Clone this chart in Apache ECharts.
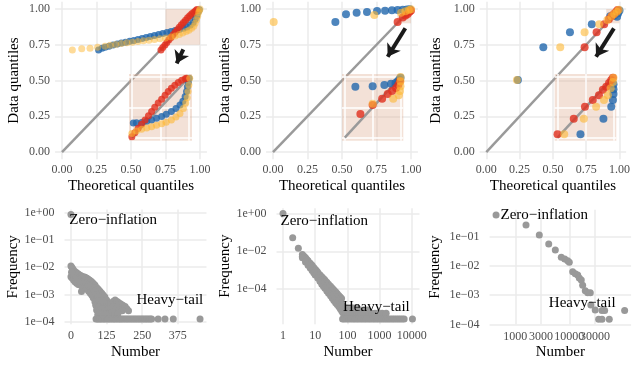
<!DOCTYPE html>
<html>
<head>
<meta charset="utf-8">
</head>
<body style="margin: 0">
<div id="container" style="width: 633px; height: 368px"></div>
<script src="https://cdn.jsdelivr.net/npm/echarts@6/dist/echarts.min.js"></script>
<script type="text/javascript">
    var FONT = '"Liberation Serif", "DejaVu Serif", serif';
    var BLUE = '#2166AC', RED = '#E0301E', YELLOW = '#FDB734', GREY = '#999999';

    // ---- top row: QQ plots ----
    var qqTicks = [0, 0.25, 0.5, 0.75, 1];
    var insetTicks = [0, 0.5, 1];
    var diag = [[0, 0], [1, 1]];

    // panel A
    var aBlue = [[0.265,0.713],[0.29,0.725],[0.312,0.733],[0.34,0.740],[0.37,0.748],[0.4,0.755],[0.43,0.762],[0.46,0.768],[0.49,0.774],[0.52,0.780],[0.55,0.787],[0.58,0.794],[0.61,0.800],[0.64,0.807],[0.67,0.814],[0.70,0.821],[0.73,0.828],[0.76,0.835],[0.79,0.842],[0.82,0.849],[0.85,0.857],[0.88,0.866],[0.905,0.875],[0.93,0.888],[0.95,0.905],[0.965,0.93],[0.977,0.955],[0.987,0.98],[0.995,0.995]];
    var aRed = [[0.717,0.713],[0.73,0.73],[0.746,0.748],[0.76,0.765],[0.775,0.785],[0.79,0.80],[0.805,0.82],[0.82,0.838],[0.835,0.855],[0.85,0.872],[0.865,0.89],[0.88,0.905],[0.895,0.922],[0.91,0.938],[0.925,0.952],[0.94,0.966],[0.955,0.978],[0.968,0.988],[0.978,0.996]];
    var aYellow = [[0.075,0.713],[0.143,0.723],[0.203,0.726],[0.258,0.733],[0.312,0.740],[0.35,0.746],[0.39,0.752],[0.43,0.758],[0.47,0.764],[0.51,0.768],[0.55,0.773],[0.59,0.778],[0.63,0.782],[0.67,0.787],[0.71,0.792],[0.75,0.798],[0.79,0.805],[0.82,0.812],[0.85,0.822],[0.875,0.832],[0.9,0.842],[0.92,0.852],[0.94,0.865],[0.955,0.88],[0.965,0.9],[0.975,0.925],[0.983,0.95],[0.99,0.975],[0.995,0.99],[1.0,1.0]];
    var aInBlue = [[0.025,0.24],[0.08,0.245],[0.17,0.25],[0.26,0.27],[0.345,0.29],[0.43,0.32],[0.52,0.35],[0.6,0.385],[0.69,0.43],[0.77,0.48],[0.84,0.54],[0.89,0.6],[0.93,0.68],[0.955,0.76],[0.97,0.84],[0.985,0.91],[1.0,0.98]];
    var aInRed = [[0.0,0.016],[0.05,0.08],[0.11,0.155],[0.17,0.22],[0.23,0.29],[0.29,0.36],[0.345,0.43],[0.40,0.50],[0.46,0.57],[0.52,0.635],[0.58,0.70],[0.635,0.76],[0.69,0.815],[0.75,0.865],[0.81,0.91],[0.87,0.945],[0.93,0.97],[0.955,0.98]];
    var aInYellow = [[0,0.07],[0.08,0.11],[0.17,0.14],[0.26,0.16],[0.345,0.18],[0.43,0.205],[0.52,0.23],[0.6,0.255],[0.69,0.29],[0.77,0.34],[0.84,0.40],[0.9,0.48],[0.94,0.57],[0.965,0.66],[0.98,0.76],[0.995,0.87],[1.01,0.98]];
    var aBox = [0.75, 1];
    var aArrow = [[0.879, 0.718], [0.831, 0.62]];

    // panel B
    var bBlue = [[0.452,0.909],[0.529,0.963],[0.606,0.974],[0.681,0.979],[0.754,0.986],[0.812,0.988],[0.862,0.991],[0.903,0.993],[0.94,0.995],[0.97,0.997],[0.99,0.998]];
    var bRed = [[0.903,0.909],[0.94,0.94],[0.96,0.955],[0.976,0.965],[0.99,0.98],[1.0,0.99]];
    var bYellow = [[0.005,0.909],[0.734,0.958],[0.928,0.974],[0.96,0.985],[0.985,0.993],[1.0,0.998]];
    var bInBlue = [[0.19,0.84],[0.50,0.85],[0.71,0.87],[0.83,0.89],[0.91,0.9],[0.95,0.93],[0.98,0.96],[1.0,0.99]];
    var bInRed = [[0.28,0.39],[0.50,0.54],[0.67,0.64],[0.77,0.72],[0.85,0.77],[0.92,0.82],[0.96,0.87],[0.99,0.93]];
    var bInYellow = [[0.50,0.56],[0.87,0.64],[0.97,0.70],[0.99,0.77],[1.0,0.85],[1.0,0.93],[1.0,1.0]];
    var bBox = [0.9, 1];
    var bArrow = [[0.959, 0.865], [0.831, 0.666]];

    // panel C
    var cBlue = [[0.237,0.503],[0.428,0.732],[0.628,0.837],[0.792,0.893],[0.93,0.95],[0.96,0.955],[0.982,0.946],[0.99,0.97],[1.0,0.99]];
    var cRed = [[0.738,0.732],[0.828,0.837],[0.885,0.893],[0.92,0.928],[0.94,0.95],[0.958,0.965],[0.975,0.98],[0.986,0.993]];
    var cYellow = [[0.230,0.503],[0.555,0.732],[0.738,0.837],[0.848,0.893],[0.909,0.923],[0.94,0.95],[0.96,0.965],[0.98,0.98],[0.995,0.995]];
    var cInBlue = [[0.41,0.056],[0.82,0.31],[0.96,0.51],[0.99,0.62],[1.0,0.72],[1.0,0.8],[1.0,0.88]];
    var cInRed = [[0.0,0.056],[0.29,0.31],[0.49,0.51],[0.63,0.62],[0.74,0.70],[0.81,0.79],[0.87,0.84],[0.92,0.90],[0.96,0.95],[0.99,0.99]];
    var cInYellow = [[0.12,0.056],[0.47,0.31],[0.69,0.51],[0.83,0.62],[0.90,0.70],[0.95,0.815],[0.99,0.92],[1.0,0.99]];
    var cBox = [0.9, 1];
    var cArrow = [[0.958, 0.865], [0.824, 0.666]];

    // ---- bottom row: frequency plots ----
    var logTicksA = [1, 0.1, 0.01, 0.001, 0.0001];
    var logTicksB = [1, 0.01, 0.0001];
    var logTicksC = [0.1, 0.01, 0.001, 0.0001];
    var numTicksA = [0, 125, 250, 375];
    var numTicksB = [1, 10, 100, 1000, 10000];
    var numTicksC = [1000, 3000, 10000, 30000];

    var freqA = [[0,0.85],
        [0,0.011],[4,0.0095],[8,0.0082],[14,0.0069],[20,0.0062],[26,0.0056],[32,0.0051],[37,0.0048],[44,0.0045],[50,0.0043],[56,0.0039],[61,0.0036],[66,0.0033],[72,0.003],[78,0.0026],[84,0.0022],[90,0.0018],[96,0.00155],[102,0.0013],[108,0.0011],[113,0.00095],[119,0.0008],[125,0.00063],
        [0,0.0045],[4,0.004],[9,0.0034],[14,0.0029],[20,0.0026],[26,0.0023],[32,0.0022],[40,0.0019],[48,0.0017],[55,0.00155],[62,0.0013],[68,0.0011],[73,0.00095],[78,0.00075],[84,0.00054],[87,0.0004],[90,0.00027],[94,0.00018],
        [2,0.0065],[6,0.0055],[10,0.005],[16,0.0042],[22,0.0038],[28,0.0034],[34,0.003],[42,0.0028],[48,0.0026],[54,0.0024],[60,0.0022],[66,0.002],[72,0.0018],[78,0.0016],[84,0.0013],[90,0.001],[96,0.0008],[100,0.0006],[105,0.00045],[110,0.0006],[116,0.0005],[98,0.00035],[104,0.00028],[110,0.0003],
        [37,0.00127],
        [125,0.00045],[132,0.0004],[140,0.00048],[148,0.00055],[155,0.00062],[162,0.00055],[168,0.0005],[175,0.00045],[182,0.0004],[190,0.00036],[196,0.0003],[202,0.00025],[120,0.0003],[130,0.00028],[140,0.0003],[150,0.00035],[160,0.0003],[170,0.00028],[180,0.00025],[115,0.0002],[125,0.0002],[135,0.0002],[145,0.00022],[155,0.0002],[165,0.0002],
        [88,0.000126],[93,0.000126],[98,0.000126],[103,0.000126],[108,0.000126],[114,0.000126],[119,0.000126],[125,0.000126],[131,0.000126],[136,0.000126],[142,0.000126],[148,0.000126],[153,0.000126],[159,0.000126],[165,0.000126],[171,0.000126],[176,0.000126],[182,0.000126],[188,0.000126],[194,0.000126],[200,0.000126],[206,0.000126],[212,0.000126],[218,0.000126],[224,0.000126],[230,0.000126],[236,0.000126],[242,0.000126],[248,0.000126],[254,0.000126],[260,0.000126],[266,0.000126],[272,0.000126],[278,0.000126],[283,0.000126],
        [306,0.000126],[330,0.000126],[359,0.000126],[453,0.000126]];

    var freqB = [[1,1.0],[2,0.052],[3,0.0144],
        [4,0.0068],[4.5,0.0055],[5,0.0045],[5.5,0.0037],[6,0.0031],[7,0.0023],[8,0.0018],[9,0.0014],[10,0.0011],[11,0.00092],[12,0.00078],[14,0.00057],[16,0.00045],[18,0.00036],[20,0.0003],[23,0.00023],[26,0.00018],[30,0.00014],[34,0.00011],[38,9e-5],[43,7.2e-5],[48,5.8e-5],[54,4.6e-5],[60,3.8e-5],[66,3.2e-5],
        [4,0.0055],[5,0.0035],[6,0.0024],[7,0.0018],[8,0.0013],[9,0.001],[10,0.0008],[12,0.00055],[14,0.0004],[16,0.0003],[18,0.00024],[20,0.00019],[23,0.00014],[26,0.00011],[30,8e-5],[34,6.2e-5],[38,5e-5],[43,3.8e-5],[48,3e-5],[54,2.4e-5],[60,1.9e-5],[66,1.5e-5],[72,1.2e-5],
        [4,0.0045],[5,0.0027],[6,0.0018],[7,0.0013],[8,0.00095],[9,0.00072],[10,0.00055],[12,0.00038],[14,0.00026],[16,0.00018],[18,0.00014],[20,0.00011],[23,8e-5],[26,6e-5],[30,4.4e-5],[34,3.3e-5],[38,2.5e-5],[43,1.9e-5],[48,1.5e-5],[54,1.2e-5],[60,9e-6],[66,7e-6],[72,5.5e-6],
        [75,1.05e-5],[85,1e-5],[95,1.04e-5],[110,1e-5],[130,1.04e-5],[160,1e-5],[200,1.04e-5],
        [80,7.8e-6],[92,7.8e-6],[105,7.8e-6],[120,7.8e-6],[140,7.8e-6],[165,7.8e-6],[200,7.8e-6],[250,7.8e-6],[320,7.8e-6],[420,7.8e-6],
        [78,5.2e-6],[88,5.2e-6],[100,5.2e-6],[115,5.2e-6],[130,5.2e-6],[150,5.2e-6],[170,5.2e-6],[195,5.2e-6],[225,5.2e-6],[260,5.2e-6],[310,5.2e-6],[380,5.2e-6],[460,5.2e-6],[570,5.2e-6],[720,5.2e-6],[900,5.2e-6],[1200,5.2e-6],[1600,5.2e-6],
        [71,2.6e-6],[80,2.6e-6],[94,2.6e-6],[108,2.6e-6],[126,2.6e-6],[147,2.6e-6],[168,2.6e-6],[195,2.6e-6],[222,2.6e-6],[258,2.6e-6],[296,2.6e-6],[342,2.6e-6],[390,2.6e-6],[455,2.6e-6],[520,2.6e-6],[604,2.6e-6],[690,2.6e-6],[800,2.6e-6],[915,2.6e-6],[1060,2.6e-6],[1225,2.6e-6],[1410,2.6e-6],[1630,2.6e-6],[1870,2.6e-6],[2150,2.6e-6],[2490,2.6e-6],[2850,2.6e-6],[3300,2.6e-6],[3810,2.6e-6],[4370,2.6e-6],[5050,2.6e-6],[5800,2.6e-6],[10500,2.6e-6]];

    var freqC = [[440,0.553],[1578,0.251],[2782,0.114],[4160,0.0562],[5508,0.035],[7112,0.0197],[8222,0.0172],[9340,0.0151],[10000,0.0133],[11560,0.0063],[12910,0.0054],[14310,0.0049],[15310,0.0039],[16670,0.0033],[17680,0.0022],[19780,0.00142],[21920,0.00121],[24480,0.00121],[25100,0.00046],[30200,0.00031],[40300,0.0003],[45200,0.0003],[35000,0.000148],[40300,0.000148],[55000,0.000148],[106000,0.0003]];

    var notesA = [['Zero\u2212inflation', 148, 0.54], ['Heavy\u2212tail', 347, 0.00063]];
    var notesB = [['Zero\u2212inflation', 19.2, 0.416], ['Heavy\u2212tail', 796, 1.17e-5]];
    var notesC = [['Zero\u2212inflation', 3443, 0.553], ['Heavy\u2212tail', 17330, 0.00055]];

    // ---- helpers ----
    function tickText() {
        return {fontFamily: FONT, fontSize: 12, color: '#4D4D4D', hideOverlap: false,
            showMinLabel: true, showMaxLabel: true};
    }
    function titleText() { return {fontFamily: FONT, fontSize: 15, color: '#000'}; }
    function gridLine() { return {lineStyle: {color: '#EBEBEB', width: 1.5}}; }

    function sci(v) {
        var e = Math.round(Math.log10(v));
        var a = Math.abs(e);
        return '1e' + (e < 0 ? '\u2212' : '+') + (a < 10 ? '0' : '') + a;
    }
    function plain(v) { return String(Math.round(v)); }
    function fix2(v) { return v.toFixed(2); }

    function mainAxis(gi, name, gap, ticks, extra) {
        var ax = {
            gridIndex: gi, type: 'value', name: name, nameLocation: 'middle', nameGap: gap,
            nameTextStyle: titleText(),
            axisLine: {show: false},
            axisTick: {show: false, customValues: ticks},
            axisLabel: Object.assign({customValues: ticks, margin: 5}, tickText()),
            splitLine: gridLine()
        };
        return Object.assign(ax, extra);
    }

    function insetAxis(gi) {
        return {
            gridIndex: gi, type: 'value', min: -0.05, max: 1.05, z: 6,
            axisLine: {show: false},
            axisTick: {show: false, customValues: insetTicks},
            axisLabel: {show: false},
            splitLine: {lineStyle: {color: '#FFFFFF', width: 1.5}}
        };
    }

    function dots(data, color, opacity, idx, size, z) {
        return {
            type: 'scatter', xAxisIndex: idx, yAxisIndex: idx, data: data, symbolSize: size,
            itemStyle: {color: color, opacity: opacity}, z: z, silent: true
        };
    }

    function refLine(idx, z, box, arrow) {
        var s = {
            type: 'line', xAxisIndex: idx, yAxisIndex: idx, data: diag, showSymbol: false,
            lineStyle: {color: '#9A9A9A', width: 2.5}, z: z, silent: true
        };
        if (box) {
            s.markArea = {
                silent: true,
                itemStyle: {color: 'rgba(222,170,140,0.35)'},
                data: [[{coord: [box[0], box[0]]}, {coord: [box[1], box[1]]}]]
            };
        }
        if (arrow) {
            s.markLine = {
                silent: true, symbol: ['none', 'arrow'], symbolSize: 12,
                label: {show: false},
                lineStyle: {color: '#1A1A1A', width: 4, type: 'solid'},
                data: [[{coord: arrow[0]}, {coord: arrow[1]}]]
            };
        }
        return s;
    }

    function notes(list) {
        return {
            symbol: 'rect', symbolSize: 1, silent: true,
            itemStyle: {color: 'rgba(0,0,0,0)'},
            label: {show: true, position: 'inside', fontFamily: FONT, fontSize: 15, color: '#000',
                formatter: function (p) { return p.name; }},
            data: list.map(function (n) { return {name: n[0], coord: [n[1], n[2]]}; })
        };
    }

    var panelTop = 1.85, panelH = 157.35;
    var insetBg = 'rgba(222,170,140,0.35)';
    var grids = [
        {left: 55.1, top: panelTop, width: 151.8, height: panelH},
        {left: 266.1, top: panelTop, width: 151.8, height: panelH},
        {left: 479.65, top: panelTop, width: 150.7, height: panelH},
        {left: 129, top: 74, width: 63, height: 66.7, show: true, z: 5, borderWidth: 0, backgroundColor: insetBg},
        {left: 342, top: 74, width: 61.3, height: 66.7, show: true, z: 5, borderWidth: 0, backgroundColor: insetBg},
        {left: 554.7, top: 74, width: 61.6, height: 66.7, show: true, z: 5, borderWidth: 0, backgroundColor: insetBg},
        {left: 64.5, top: 209.4, width: 142, height: 114.8},
        {left: 276.5, top: 208.2, width: 143, height: 116},
        {left: 489.6, top: 209.8, width: 141.5, height: 114.8}
    ];

    var xAxes = [], yAxes = [];
    [0, 1, 2].forEach(function (i) {
        var xa = mainAxis(i, 'Theoretical quantiles', 19, qqTicks, {min: -0.05, max: 1.05});
        xa.axisLabel.formatter = fix2;
        var ya = mainAxis(i, 'Data quantiles', i === 2 ? 36 : 34, qqTicks, {min: -0.05, max: 1.05});
        ya.axisLabel.formatter = fix2;
        xAxes.push(xa); yAxes.push(ya);
    });
    [3, 4, 5].forEach(function (i) { xAxes.push(insetAxis(i)); yAxes.push(insetAxis(i)); });

    // panel C labels overlap in the original; split them over two stacked axes so none is dropped
    var numTicksC1 = numTicksC.filter(function (v, i) { return i % 2 === 0; });
    var numTicksC2 = numTicksC.filter(function (v, i) { return i % 2 === 1; });

    var bx0 = mainAxis(6, 'Number', 20, numTicksA, {min: -22.65, max: 475.65});
    var bx1 = mainAxis(7, 'Number', 20, numTicksB, {type: 'log', min: 0.628, max: 17400});
    var bx2 = mainAxis(8, 'Number', 20, numTicksC, {type: 'log', min: 334, max: 139600, position: 'bottom'});
    bx2.axisLabel.customValues = numTicksC1;
    var bx3 = mainAxis(8, '', 20, numTicksC2, {type: 'log', min: 334, max: 139600, position: 'bottom', offset: 0});
    bx3.splitLine = {show: false};
    [bx0, bx1, bx2, bx3].forEach(function (a) { a.axisLabel.margin = 6; a.axisLabel.formatter = plain; });
    var by0 = mainAxis(6, 'Frequency', 44, logTicksA, {type: 'log', min: 8.1e-5, max: 1.32});
    var by1 = mainAxis(7, 'Frequency', 44, logTicksB, {type: 'log', min: 1.38e-6, max: 1.9});
    var by2 = mainAxis(8, 'Frequency', 47, logTicksC, {type: 'log', min: 9.8e-5, max: 0.836});
    [by0, by1, by2].forEach(function (a) { a.axisLabel.margin = 10; a.axisLabel.formatter = sci; });
    xAxes.push(bx0, bx1, bx2, bx3);
    yAxes.push(by0, by1, by2);

    var panels = [
        [aBlue, aRed, aYellow, aInBlue, aInRed, aInYellow, aBox, aArrow],
        [bBlue, bRed, bYellow, bInBlue, bInRed, bInYellow, bBox, bArrow],
        [cBlue, cRed, cYellow, cInBlue, cInRed, cInYellow, cBox, cArrow]
    ];
    var series = [];
    panels.forEach(function (p, i) {
        var size = i === 0 ? 7 : 8;
        series.push(refLine(i, 1, p[6], p[7]));
        series.push(dots(p[0], BLUE, 0.8, i, size, 2));
        series.push(dots(p[1], RED, 0.8, i, size, 3));
        series.push(dots(p[2], YELLOW, i === 0 ? 0.5 : 0.6, i, size, 4));
        var k = i + 3;
        series.push(refLine(k, 7));
        series.push(dots(p[3], BLUE, 0.8, k, size, 8));
        series.push(dots(p[4], RED, 0.8, k, size, 9));
        series.push(dots(p[5], YELLOW, 0.6, k, size, 10));
    });
    [[freqA, notesA], [freqB, notesB], [freqC, notesC]].forEach(function (f, i) {
        var s = dots(f[0], GREY, 1, i + 6, 7, 2);
        s.markPoint = notes(f[1]);
        series.push(s);
    });

    var dom = document.getElementById('container');
    var myChart = echarts.init(dom, null, {renderer: 'canvas'});
    myChart.setOption({
        backgroundColor: '#FFFFFF',
        animation: false,
        grid: grids,
        xAxis: xAxes,
        yAxis: yAxes,
        series: series
    });
</script>
</body>
</html>
